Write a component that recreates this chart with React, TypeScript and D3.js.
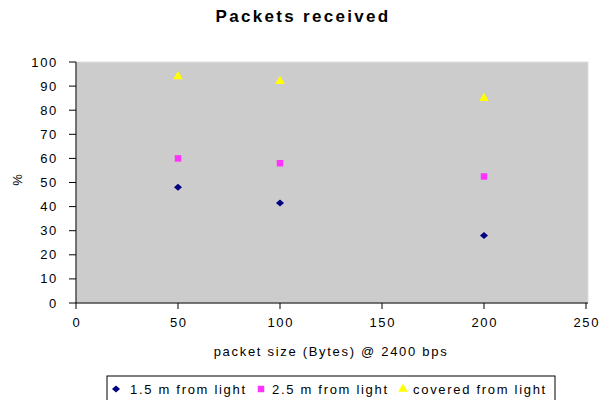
import React from "react";
import * as d3 from "d3";

const xValues = [50, 100, 200];
const series1 = [48, 41.5, 28];
const series2 = [60, 58, 52.5];
const series3 = [94, 92, 85];
const seriesNames = ["1.5 m from light", "2.5 m from light", "covered from light"];
const xTicks = [0, 50, 100, 150, 200, 250];
const yTicks = [0, 10, 20, 30, 40, 50, 60, 70, 80, 90, 100];

const W = 601, H = 400;
const L = 76, R = 586, T = 62, B = 303;

export default function App() {
  const x = d3.scaleLinear().domain([0, 250]).range([L, R]);
  const y = d3.scaleLinear().domain([0, 100]).range([B, T]);
  const diamond = "M-4,0L0,-3.5L4,0L0,3.5Z";
  const square = d3.symbol().type(d3.symbolSquare).size(42)();
  const tri = d3.symbol().type(d3.symbolTriangle).size(40)();
  const font = "Arial, 'Liberation Sans', sans-serif";
  const series = [
    { vals: series1, path: diamond, color: "#000080" },
    { vals: series2, path: square, color: "#ff33ff" },
    { vals: series3, path: tri, color: "#ffff00" },
  ];
  const ls = 1.7;
  return (
    <svg width={W} height={H} style={{ position: "absolute", left: 0, top: 0 }} fontFamily={font}>
      <rect x={0} y={0} width={W} height={H} fill="#fff" />
      <text x={303} y={22} textAnchor="middle" fontSize={17} fontWeight="bold" letterSpacing={2.3}>Packets received</text>
      <rect x={L} y={T} width={R - L + 2} height={B - T} fill="#cccccc" stroke="#e0e0e0" strokeWidth={1} />
      <line x1={L} y1={T} x2={L} y2={B} stroke="#000" />
      <line x1={L} y1={B} x2={R + 2} y2={B} stroke="#000" />
      {yTicks.map((t) => (
        <g key={"y" + t}>
          <line x1={L - 7} x2={L} y1={y(t)} y2={y(t)} stroke="#000" />
          <text x={58} y={y(t) + 4.5} textAnchor="end" fontSize={13} letterSpacing={ls}>{t}</text>
        </g>
      ))}
      {xTicks.map((t) => (
        <g key={"x" + t}>
          <line x1={x(t)} x2={x(t)} y1={B} y2={B + 6} stroke="#000" />
          <text x={x(t) + ls / 2} y={B + 24} textAnchor="middle" fontSize={13} letterSpacing={ls}>{t}</text>
        </g>
      ))}
      <text transform={`translate(22,180) rotate(-90)`} textAnchor="middle" fontSize={13}>%</text>
      <text x={331} y={356} textAnchor="middle" fontSize={13} letterSpacing={ls}>packet size (Bytes) @ 2400 bps</text>
      {series.map((s, i) =>
        s.vals.map((v, j) => (
          <path key={i + "-" + j} d={s.path} transform={`translate(${x(xValues[j])},${y(v)})`} fill={s.color} />
        ))
      )}
      <rect x={107} y={376} width={448} height={30} fill="#fff" stroke="#000" />
      {[
        { px: 116, tx: 130 },
        { px: 261, tx: 272 },
        { px: 403, tx: 413 },
      ].map((p, i) => (
        <g key={"lg" + i}>
          <path d={series[i].path} transform={`translate(${p.px},${389})`} fill={series[i].color} />
          <text x={p.tx} y={394} fontSize={13} letterSpacing={ls}>{seriesNames[i]}</text>
        </g>
      ))}
    </svg>
  );
}
